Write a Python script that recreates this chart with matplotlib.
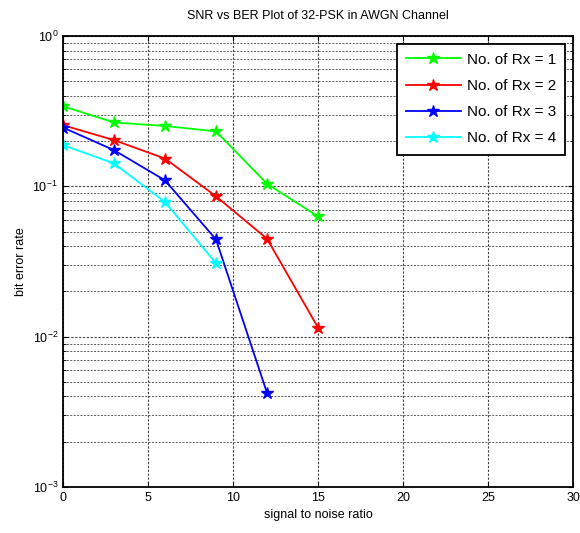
import matplotlib.pyplot as plt
from matplotlib.ticker import LogLocator, NullFormatter

plt.rcParams['font.family'] = ['Liberation Sans', 'DejaVu Sans']

# SNR values (x axis)
snr = [0, 3, 6, 9, 12, 15]

# BER for each number of receive antennas
ber_rx1 = [0.341, 0.266, 0.252, 0.232, 0.104, 0.063]
ber_rx2 = [0.255, 0.203, 0.153, 0.0858, 0.0448, 0.0115]
ber_rx3 = [0.246, 0.174, 0.1096, 0.0443, 0.00423]
ber_rx4 = [0.188, 0.142, 0.0786, 0.0308]

labels = ['No. of Rx = 1', 'No. of Rx = 2', 'No. of Rx = 3', 'No. of Rx = 4']
colors = ['#00ff00', '#ff0000', '#0000ff', '#00ffff']

fig = plt.figure(figsize=(5.8, 5.33), dpi=100)
ax = fig.add_axes([0.1086, 0.0863, 0.8794, 0.8462])

series = [ber_rx1, ber_rx2, ber_rx3, ber_rx4]
for vals, lab, col in zip(series, labels, colors):
    ax.semilogy(snr[:len(vals)], vals, '-*', color=col, label=lab,
                lw=1.3, markersize=9)

ax.set_xlim(0, 30)
ax.set_ylim(1e-3, 1)
ax.set_xticks(range(0, 31, 5))
ax.yaxis.set_minor_locator(LogLocator(base=10, subs=range(2, 10)))
ax.yaxis.set_minor_formatter(NullFormatter())

# MATLAB-like dotted grid, major and minor
ax.grid(True, which='major', linestyle=(0, (2, 1.5)), color='0.25', lw=0.8)
ax.grid(True, which='minor', axis='y', linestyle=(0, (2, 1.5)), color='0.35', lw=0.7)

ax.tick_params(which='both', direction='in', top=True, right=True, labelsize=9)
for s in ax.spines.values():
    s.set_linewidth(1.3)

ax.set_title('SNR vs BER Plot of 32-PSK in AWGN Channel', fontsize=9, pad=12)
ax.set_xlabel('signal to noise ratio', fontsize=9)
ax.set_ylabel('bit error rate', fontsize=9)

leg = ax.legend(loc='upper right', fontsize=11, fancybox=False, framealpha=1,
                edgecolor='black', borderaxespad=0.5, handlelength=3.6,
                labelspacing=0.8, borderpad=0.6, handletextpad=0.4)
leg.get_frame().set_linewidth(1.3)

fig.savefig('out.png', dpi=100)
